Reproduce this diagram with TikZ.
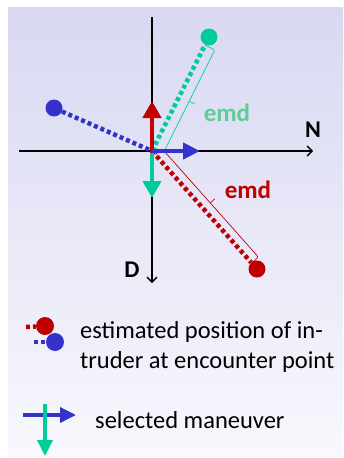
\documentclass[tikz,border=0pt]{standalone}
\usepackage{fontspec}
\setmainfont{Carlito}
\usetikzlibrary{arrows.meta,calc}
\definecolor{bgtop}{HTML}{D8D8F2}
\definecolor{bgbot}{HTML}{F8F8FD}
\definecolor{intred}{HTML}{C00000}
\definecolor{intblue}{HTML}{3333CC}
\definecolor{intgreen}{HTML}{00CC99}
\definecolor{emdgreen}{HTML}{5FCD96}

\begin{document}
\begin{tikzpicture}[
    x=1pt, y=-1pt,
    font=\fontsize{24.5}{30}\selectfont,
    axis/.style={line width=1.3pt, -{Straight Barb[length=5pt,width=10pt]}},
    dot/.style={circle, inner sep=0pt, minimum size=17pt},
    track/.style={line width=4.5pt, dash pattern=on 4pt off 3pt},
    move/.style={line width=4.5pt, -{Triangle[length=17pt,width=18pt]}},
    emd/.style={line width=0.7pt, rounded corners=2pt},
    emdlabel/.style={font=\fontsize{25}{28}\selectfont\bfseries},
    axlabel/.style={font=\fontsize{24}{28}\selectfont\bfseries},
]
    \useasboundingbox (0,0) rectangle (343,458);
    \shade[top color=bgtop, bottom color=bgbot] (8,7) rectangle (343,458);

    % axes
    \coordinate (O) at (152,151);
    \coordinate (xl) at (19,151);
    \coordinate (xr) at (313,151);
    \coordinate (yt) at (152,17);
    \coordinate (yb) at (152,283);
    \draw[axis] (xl) -- (xr);
    \draw[axis] (yt) -- (yb);
    \node[axlabel] (north) at (313,130) {N};
    \node[axlabel] (down) at (132,270) {D};

    % intruder positions
    \node[dot, fill=intgreen] (gdot) at (209,37) {};
    \node[dot, fill=intblue] (bdot) at (54,108) {};
    \node[dot, fill=intred] (rdot) at (257,269) {};

    % emd brackets
    \coordinate (gA) at ($(O)!4pt!(gdot)$);
    \coordinate (gB) at ($(gdot)!9pt!(O)$);
    \coordinate (gM) at ($(gA)!.5!(gB)$);
    \draw[emd, intgreen] (gA) -- ($(gA)!11pt!-90:(gdot)$) -- ($(gB)!11pt!90:(O)$) -- (gB);
    \draw[emd, intgreen] ($(gM)!11pt!-90:(gB)$) -- ($(gM)!17pt!-90:(gB)$);
    \node[emdlabel, text=emdgreen] (gemd) at (227,113) {emd};

    \coordinate (rA) at ($(O)!5pt!(rdot)$);
    \coordinate (rB) at ($(rdot)!8pt!(O)$);
    \coordinate (rM) at ($(rA)!.5!(rB)$);
    \draw[emd, intred] (rA) -- ($(rA)!9pt!90:(rdot)$) -- ($(rB)!9pt!-90:(O)$) -- (rB);
    \draw[emd, intred] ($(rM)!9pt!90:(rB)$) -- ($(rM)!15pt!90:(rB)$);
    \node[emdlabel, text=intred] (remd) at (248,190) {emd};

    % dotted tracks
    \draw[track, intblue] (bdot) -- (O);
    \draw[track, intgreen] (O) -- (gdot);
    \draw[track, intred] (O) -- (rdot);

    % maneuvers
    \coordinate (rtip) at (152,101);
    \coordinate (gtip) at (152,198);
    \coordinate (btip) at (200,151);
    \draw[move, intgreen] (O) -- (gtip);
    \draw[move, intred] ([yshift=-2pt]O) -- (rtip);
    \draw[move, intblue, -{Triangle[length=17pt,width=16pt]}] (O) -- (btip);

    % legend
    \coordinate (lrs) at (26,327);
    \coordinate (lbs) at (34,342);
    \node[dot, fill=intred, minimum size=18pt] (lrdot) at (45,326) {};
    \draw[track, intred] (lrs) -- (lrdot);
    \node[dot, fill=intblue, minimum size=18pt] (lbdot) at (55,342) {};
    \draw[track, intblue] (lbs) -- (lbdot);
    \node[anchor=west, inner sep=0pt, align=left] (esttext) at (80,347)
        {estimated position of in-\\truder at encounter point};

    \coordinate (lbl) at (23,415);
    \coordinate (lbr) at (76,415);
    \coordinate (lgt) at (45,404);
    \coordinate (lgb) at (45,456);
    \draw[move, line width=3.5pt, intblue, -{Triangle[length=16pt,width=15pt]}] (lbl) -- (lbr);
    \draw[move, line width=3.5pt, intgreen, -{Triangle[length=16pt,width=15pt]}] (lgt) -- (lgb);
    \node[anchor=base west, inner sep=0pt] (seltext) at (95,428) {selected maneuver};
\end{tikzpicture}
\end{document}
